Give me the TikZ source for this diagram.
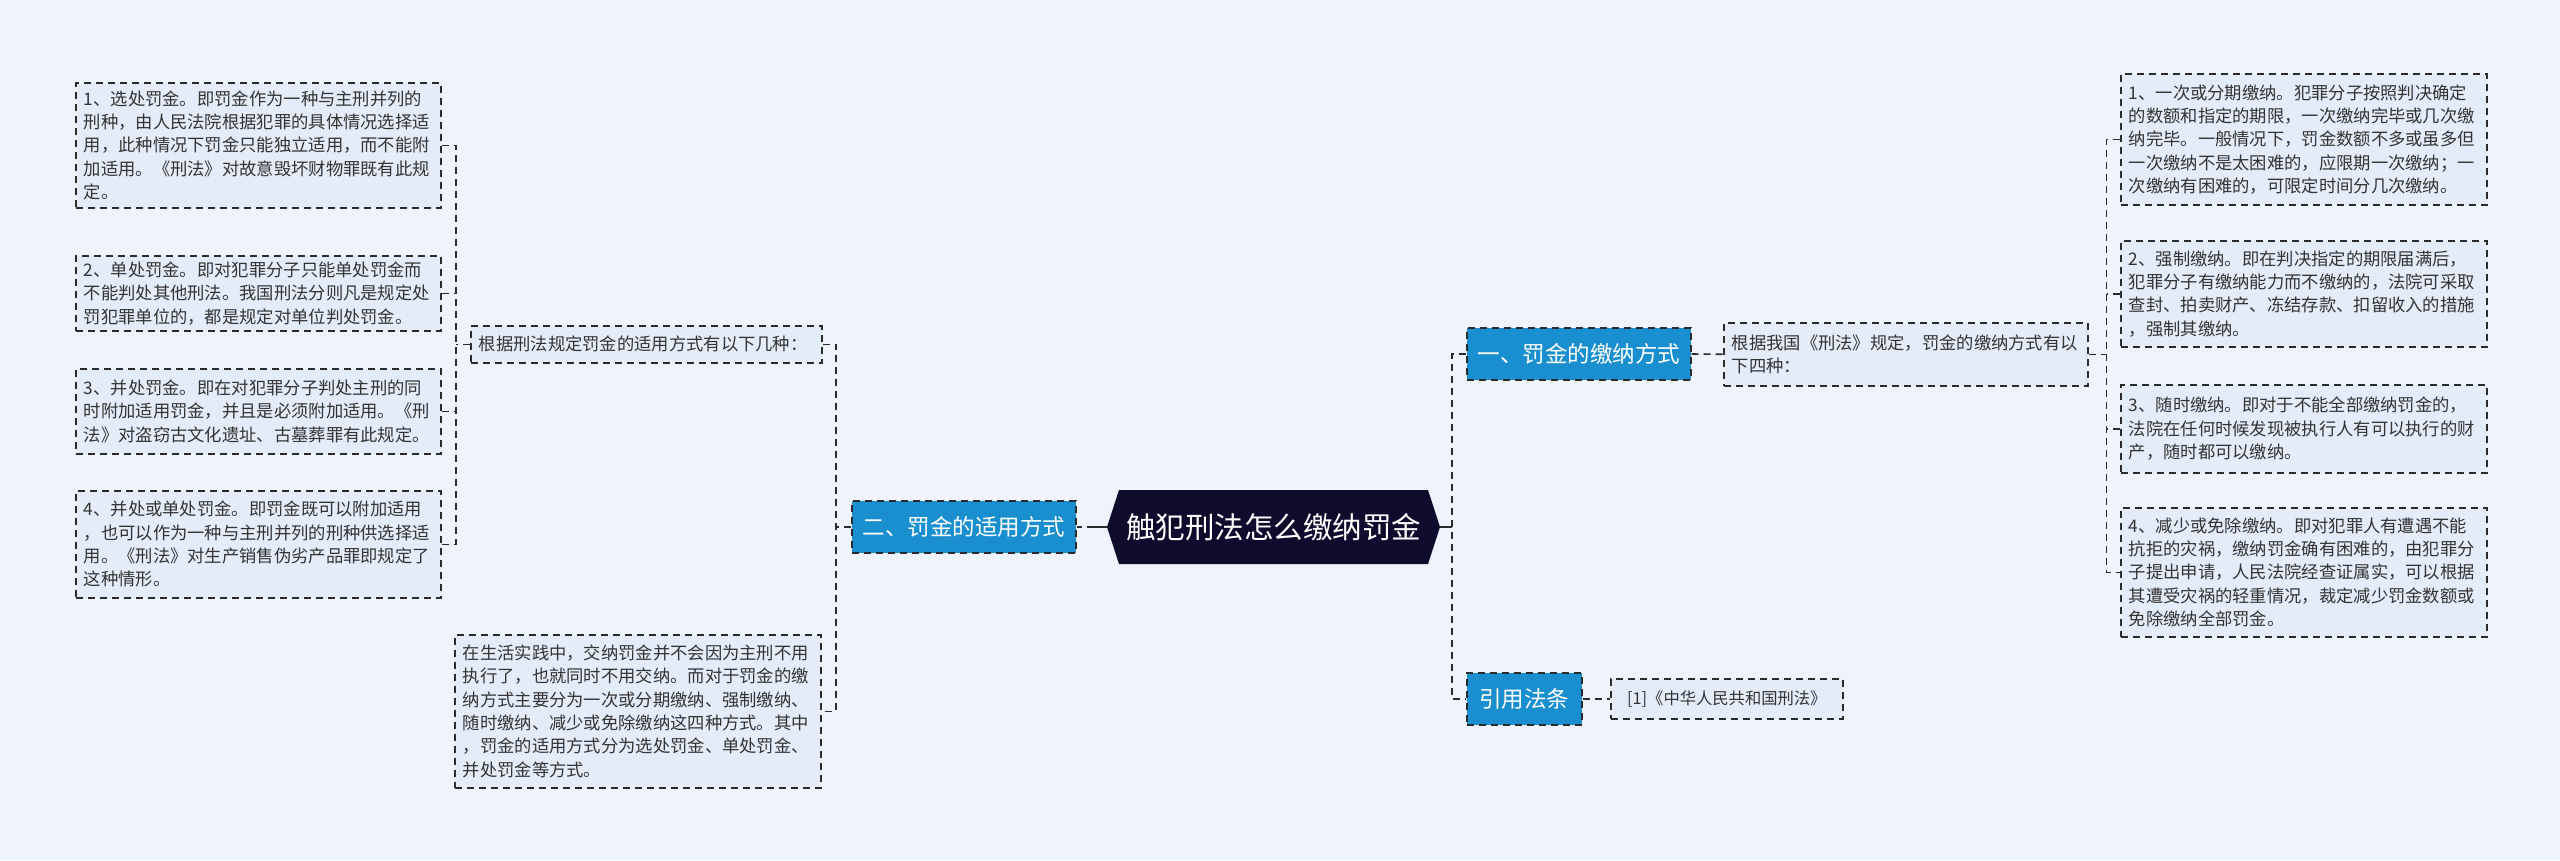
\documentclass[tikz,border=0pt]{standalone}
\usepackage{fontspec}
\newfontfamily\cjk{Noto Sans CJK SC}
\definecolor{bg}{HTML}{EEF3FC}
\definecolor{leaffill}{HTML}{E4EBF9}
\definecolor{bluefill}{HTML}{1A8FD0}
\definecolor{rootfill}{HTML}{0E0B2D}
\definecolor{linec}{HTML}{2B2B2B}
\definecolor{txt}{HTML}{333333}
\begin{document}
\begin{tikzpicture}[x=1pt,y=-1pt,
  dashline/.style={draw=linec, line width=1.6pt, dash pattern=on 7pt off 5pt},
  leaf/.style={dashline, fill=leaffill, anchor=north west, inner xsep=8pt, inner ysep=3pt,
    align=left, text=txt, font=\cjk\fontsize{17.3}{23.3}\selectfont},
  topic/.style={dashline, fill=bluefill, text=white, font=\cjk\fontsize{22.5}{26}\selectfont,
    minimum height=52pt, inner xsep=0pt, anchor=west},
  rootstyle/.style={text=white, font=\cjk\fontsize{29.5}{34}\selectfont, inner sep=0pt},
  link/.style={dashline},
  rootlink/.style={draw=linec, line width=2.2pt, dash pattern=on 5pt off 5pt on 40pt off 2pt}
]
\useasboundingbox[fill=bg] (0,0) rectangle (2560,860);

% root hexagon
\coordinate (rootL) at (1107,527);
\coordinate (rootR) at (1440,527);
\fill[rootfill] (rootL) -- (1119,490) -- (1428,490) -- (rootR) -- (1428,564) -- (1119,564) -- cycle;
\node[rootstyle] (root) at (1273.5,527) {触犯刑法怎么缴纳罚金};

% topics
\node[topic, minimum width=224pt] (t2) at (851,527) {二、罚金的适用方式};
\node[topic, minimum width=224pt] (t1) at (1466,354) {一、罚金的缴纳方式};
\node[topic, minimum width=115pt] (t3) at (1466,699) {引用法条};

% left side
\node[leaf, text width=349pt, minimum height=125pt] (l1) at (75,82) {1、选处罚金。即罚金作为一种与主刑并列的\\刑种，由人民法院根据犯罪的具体情况选择适\\用，此种情况下罚金只能独立适用，而不能附\\加适用。《刑法》对故意毁坏财物罪既有此规\\定。};
\node[leaf, text width=349pt, minimum height=75pt] (l2) at (75,255) {2、单处罚金。即对犯罪分子只能单处罚金而\\不能判处其他刑法。我国刑法分则凡是规定处\\罚犯罪单位的，都是规定对单位判处罚金。};
\node[leaf, text width=349pt, minimum height=85pt] (l3) at (75,368) {3、并处罚金。即在对犯罪分子判处主刑的同\\时附加适用罚金，并且是必须附加适用。《刑\\法》对盗窃古文化遗址、古墓葬罪有此规定。};
\node[leaf, text width=349pt, minimum height=107pt] (l4) at (75,490) {4、并处或单处罚金。即罚金既可以附加适用\\，也可以作为一种与主刑并列的刑种供选择适\\用。《刑法》对生产销售伪劣产品罪即规定了\\这种情形。};
\node[leaf, text width=335pt, minimum height=37pt, inner xsep=8pt] (m1) at (470,325) {根据刑法规定罚金的适用方式有以下几种：};
\node[leaf, text width=350pt, minimum height=153pt] (m2) at (454,634) {在生活实践中，交纳罚金并不会因为主刑不用\\执行了，也就同时不用交纳。而对于罚金的缴\\纳方式主要分为一次或分期缴纳、强制缴纳、\\随时缴纳、减少或免除缴纳这四种方式。其中\\，罚金的适用方式分为选处罚金、单处罚金、\\并处罚金等方式。};

% right side
\node[leaf, text width=348pt, minimum height=63pt] (rm) at (1723,322) {根据我国《刑法》规定，罚金的缴纳方式有以\\下四种：};
\node[leaf, anchor=west, minimum width=232pt, minimum height=40pt, inner xsep=6pt, font=\cjk\fontsize{16.3}{20}\selectfont] (ref) at (1610,699) {[1]《中华人民共和国刑法》};
\node[leaf, text width=350pt, minimum height=131pt] (r1) at (2120,73) {1、一次或分期缴纳。犯罪分子按照判决确定\\的数额和指定的期限，一次缴纳完毕或几次缴\\纳完毕。一般情况下，罚金数额不多或虽多但\\一次缴纳不是太困难的，应限期一次缴纳；一\\次缴纳有困难的，可限定时间分几次缴纳。};
\node[leaf, text width=350pt, minimum height=106pt] (r2) at (2120,240) {2、强制缴纳。即在判决指定的期限届满后，\\犯罪分子有缴纳能力而不缴纳的，法院可采取\\查封、拍卖财产、冻结存款、扣留收入的措施\\，强制其缴纳。};
\node[leaf, text width=350pt, minimum height=88pt] (r3) at (2120,384) {3、随时缴纳。即对于不能全部缴纳罚金的，\\法院在任何时候发现被执行人有可以执行的财\\产，随时都可以缴纳。};
\node[leaf, text width=350pt, minimum height=129pt] (r4) at (2120,507) {4、减少或免除缴纳。即对犯罪人有遭遇不能\\抗拒的灾祸，缴纳罚金确有困难的，由犯罪分\\子提出申请，人民法院经查证属实，可以根据\\其遭受灾祸的轻重情况，裁定减少罚金数额或\\免除缴纳全部罚金。};

% connectors
\coordinate (j1) at ([xshift=-14pt]m1.west);
\draw[link] (m1.west) -- (j1);
\draw[link] (l1.east) -| (j1) |- (l4.east);
\draw[link] (l2.east) -- (l2.east -| j1);
\draw[link] (l3.east) -- (l3.east -| j1);

\coordinate (j2) at ([xshift=-15pt]t2.west);
\draw[link] (t2.west) -- (j2);
\draw[link] (m1.east) -| (j2) |- (m2.east);

\draw[rootlink] (t2.east) -- (rootL);

\coordinate (j3) at ([xshift=12pt]rootR);
\draw[draw=linec, line width=2.2pt] (rootR) -- (j3);
\draw[link] (t1.west) -| (j3) |- (t3.west);

\draw[link] (t1.east) -- (rm.west);
\draw[link] (t3.east) -- (ref.west);

\coordinate (j4) at ([xshift=18pt]rm.east);
\draw[link] (rm.east) -- (j4);
\draw[link] (r1.west) -| (j4) |- (r4.west);
\draw[link] (r2.west) -- (r2.west -| j4);
\draw[link] (r3.west) -- (r3.west -| j4);
\end{tikzpicture}
\end{document}
